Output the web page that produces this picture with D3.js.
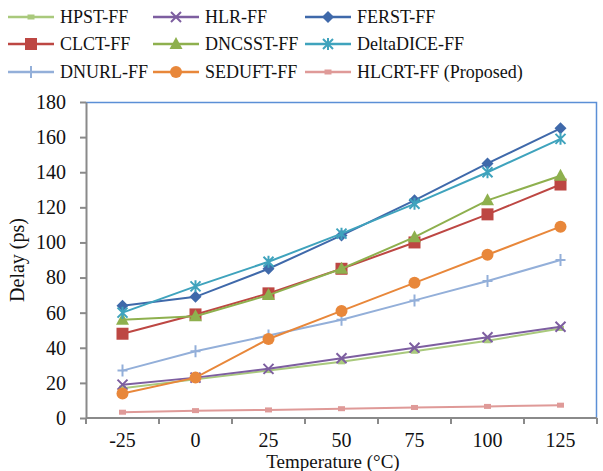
<!DOCTYPE html>
<html>
<head>
<meta charset="utf-8">
<script src="https://cdn.jsdelivr.net/npm/d3@7"></script>
<style>
  body { margin: 0; background: #fff; }
  text { font-family: "Liberation Serif", "Times New Roman", serif; fill: #111; }
</style>
</head>
<body>
<div id="chart"></div>
<script>
const temps = ["-25", "0", "25", "50", "75", "100", "125"]
const yTicks = [0, 20, 40, 60, 80, 100, 120, 140, 160, 180]

const hpst = [17, 22, 27, 32, 38, 44, 51]
const hlr = [19, 23, 28, 34, 40, 46, 52]
const ferst = [64, 69, 85, 104, 124, 145, 165]
const clct = [48, 59, 71, 85, 100, 116, 133]
const dncsst = [56, 58, 70, 85, 103, 124, 138]
const deltaDice = [60, 75, 89, 105, 122, 140, 159]
const dnurl = [27, 38, 47, 56, 67, 78, 90]
const seduft = [14, 23, 45, 61, 77, 93, 109]
const hlcrt = [3.3, 4.2, 4.6, 5.3, 6, 6.6, 7.3]

const names = ["HPST-FF", "HLR-FF", "FERST-FF", "CLCT-FF", "DNCSST-FF", "DeltaDICE-FF", "DNURL-FF", "SEDUFT-FF", "HLCRT-FF (Proposed)"]

const series = [
  { name: names[0], values: hpst, color: "#a9c97c", marker: "smallsquare" },
  { name: names[1], values: hlr, color: "#7d5ea0", marker: "x" },
  { name: names[2], values: ferst, color: "#3f69aa", marker: "diamond" },
  { name: names[3], values: clct, color: "#bd4743", marker: "square" },
  { name: names[4], values: dncsst, color: "#8eb04e", marker: "triangle" },
  { name: names[5], values: deltaDice, color: "#3fa3bd", marker: "asterisk" },
  { name: names[6], values: dnurl, color: "#93afd9", marker: "plus" },
  { name: names[7], values: seduft, color: "#e8873a", marker: "circle" },
  { name: names[8], values: hlcrt, color: "#df9a98", marker: "smallsquare" }
]

const W = 603, H = 471
const MARGIN = { TOP: 102, BOTTOM: 53, LEFT: 86, RIGHT: 6 }
const WIDTH = W - MARGIN.LEFT - MARGIN.RIGHT
const HEIGHT = H - MARGIN.TOP - MARGIN.BOTTOM

const svg = d3.select("#chart").append("svg")
  .attr("width", W)
  .attr("height", H)

const g = svg.append("g")
  .attr("transform", `translate(${MARGIN.LEFT}, ${MARGIN.TOP})`)

const x = d3.scaleBand().domain(temps).range([0, WIDTH])
const y = d3.scaleLinear().domain([0, 180]).range([HEIGHT, 0])

// plot border (top + right)
g.append("path")
  .attr("d", `M0,0.5H${WIDTH - 0.5}V${HEIGHT}`)
  .attr("fill", "none")
  .attr("stroke", "#5b8fd6")
  .attr("stroke-width", 1.5)

// y axis
const yAxis = g.append("g")
  .call(d3.axisLeft(y).tickValues(yTicks).tickSize(6).tickSizeOuter(0).tickPadding(14))
yAxis.select(".domain").attr("stroke", "#8a8a8a").attr("stroke-width", 2)
yAxis.selectAll(".tick line").attr("stroke", "#8a8a8a").attr("stroke-width", 2)
yAxis.selectAll(".tick text").attr("font-size", 20)

// x axis, ticks between categories
const xAxis = g.append("g").attr("transform", `translate(0, ${HEIGHT})`)
xAxis.append("line")
  .attr("x1", 0).attr("x2", WIDTH)
  .attr("stroke", "#8a8a8a").attr("stroke-width", 2)
const bounds = temps.map(t => x(t)).concat([WIDTH])
xAxis.selectAll(".xtick").data(bounds).enter().append("line")
  .attr("x1", d => d).attr("x2", d => d)
  .attr("y1", 0).attr("y2", 6)
  .attr("stroke", "#8a8a8a").attr("stroke-width", 2)
xAxis.selectAll(".xlabel").data(temps).enter().append("text")
  .attr("x", d => x(d) + x.bandwidth() / 2)
  .attr("y", 29)
  .attr("text-anchor", "middle")
  .attr("font-size", 20)
  .text(d => d)

// axis titles
svg.append("text")
  .attr("x", 333).attr("y", 468)
  .attr("text-anchor", "middle")
  .attr("font-size", 19)
  .text("Temperature (°C)")
svg.append("text")
  .attr("transform", `translate(24, ${MARGIN.TOP + HEIGHT / 2}) rotate(-90)`)
  .attr("text-anchor", "middle")
  .attr("font-size", 20)
  .text("Delay (ps)")

const cx = d => x(d) + x.bandwidth() / 2

function drawMarker(sel, type, color) {
  if (type === "circle") {
    sel.append("circle").attr("r", 6).attr("fill", color)
  } else if (type === "square") {
    sel.append("rect").attr("x", -6).attr("y", -6).attr("width", 12).attr("height", 12).attr("fill", color)
  } else if (type === "smallsquare") {
    sel.append("rect").attr("x", -3.5).attr("y", -2.5).attr("width", 7).attr("height", 5).attr("fill", color)
  } else if (type === "diamond") {
    sel.append("path").attr("d", "M0,-6L6,0L0,6L-6,0Z").attr("fill", color)
  } else if (type === "triangle") {
    sel.append("path").attr("d", "M0,-7L6.5,5L-6.5,5Z").attr("fill", color)
  } else if (type === "x") {
    sel.append("path").attr("d", "M-5,-5L5,5M-5,5L5,-5").attr("stroke", color).attr("stroke-width", 2)
  } else if (type === "asterisk") {
    sel.append("path").attr("d", "M-5,-5L5,5M-5,5L5,-5M0,-6V6").attr("stroke", color).attr("stroke-width", 2)
  } else if (type === "plus") {
    sel.append("path").attr("d", "M-5,0H5M0,-6V6").attr("stroke", color).attr("stroke-width", 2)
  }
}

const line = d3.line().x((d, i) => cx(temps[i])).y(d => y(d))

series.forEach(s => {
  g.append("path")
    .datum(s.values)
    .attr("fill", "none")
    .attr("stroke", s.color)
    .attr("stroke-width", 2)
    .attr("d", line)
  s.values.forEach((v, i) => {
    const m = g.append("g").attr("transform", `translate(${cx(temps[i])}, ${y(v)})`)
    drawMarker(m, s.marker, s.color)
  })
})

// legend
const legCols = [8, 153, 305]
const legRows = [17, 44, 72]
series.forEach((s, i) => {
  const lx = legCols[i % 3], ly = legRows[Math.floor(i / 3)]
  const lg = svg.append("g").attr("transform", `translate(${lx}, ${ly})`)
  lg.append("line").attr("x1", 0).attr("x2", 46).attr("stroke", s.color).attr("stroke-width", 2.5)
  const m = lg.append("g").attr("transform", "translate(23,0)")
  drawMarker(m, s.marker, s.color)
  lg.append("text").attr("x", 52).attr("y", 6).attr("font-size", 18).text(s.name)
})
</script>
</body>
</html>
